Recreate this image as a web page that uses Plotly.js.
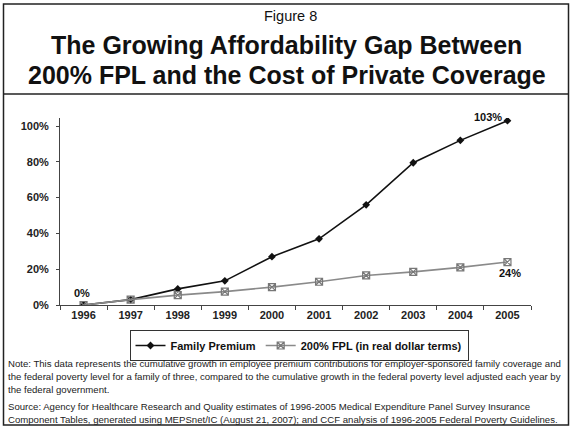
<!DOCTYPE html>
<html>
<head>
<meta charset="utf-8">
<script src="https://cdn.plot.ly/plotly-3.0.1.min.js"></script>
<style>
html,body{margin:0;padding:0;background:#fff;}
#chart{width:573px;height:428px;}
</style>
</head>
<body>
<div id="chart"></div>
<script>
var years = ['1996','1997','1998','1999','2000','2001','2002','2003','2004','2005'];
var familyPremium = [0, 3, 9, 13.5, 27, 37, 56, 79.5, 92, 103];
var fpl200 = [0, 3, 5.5, 7.5, 10, 13, 16.5, 18.5, 21, 24];
var seriesNames = ['Family Premium', '200% FPL (in real dollar terms)'];
var yTickVals = [0, 20, 40, 60, 80, 100];
var yTickText = ['0%', '20%', '40%', '60%', '80%', '100%'];

var W = 573, H = 428;
var L = 60, R = 531, T = 118, B = 305;
function px(x){ return (x - L) / (R - L); }
function py(y){ return (B - y) / (B - T); }

var FONT = 'Arial, "Liberation Sans", sans-serif';

var traces = [
  {x: years, y: familyPremium, name: seriesNames[0], type: 'scatter', mode: 'lines+markers',
   line: {color: '#111', width: 1.6},
   marker: {symbol: 'diamond', size: 6, color: '#111'}},
  {x: years, y: fpl200, name: seriesNames[1], type: 'scatter', mode: 'lines+markers',
   line: {color: '#8a8a8a', width: 1.6},
   marker: {symbol: 'square-x-open', size: 7, color: '#777', line: {width: 1.2}}}
];

function ann(text, x, y, size, bold, xanchor, color){
  return {text: text, xref: 'paper', yref: 'paper', x: px(x), y: py(y),
    xanchor: xanchor || 'center', yanchor: 'middle', showarrow: false, align: 'left',
    font: {family: FONT, size: size, color: color || '#111', weight: bold ? 'bold' : 'normal'}};
}

var annotations = [
  ann('Figure 8', 290, 16, 14.5, false),
  ann('The Growing Affordability Gap Between', 286, 45, 25, true),
  ann('200% FPL and the Cost of Private Coverage', 287, 75, 25, true),
  ann('0%', 82, 293, 11, true),
  ann('103%', 488, 117, 11, true),
  ann('24%', 510, 273, 11, true),
  ann('Note: This data represents the cumulative growth in employee premium contributions for employer-sponsored family coverage and', 6, 363, 9.6, false, 'left', '#222'),
  ann('the federal poverty level for a family of three, compared to the cumulative growth in the federal poverty level adjusted each year by', 6, 376, 9.6, false, 'left', '#222'),
  ann('the federal government.', 6, 389, 9.6, false, 'left', '#222'),
  ann('Source: Agency for Healthcare Research and Quality estimates of 1996-2005 Medical Expenditure Panel Survey Insurance', 6, 406, 9.6, false, 'left', '#222'),
  ann('Component Tables, generated using MEPSnet/IC (August 21, 2007); and CCF analysis of 1996-2005 Federal Poverty Guidelines.', 6, 419, 9.6, false, 'left', '#222')
];

var shapes = [
  {type: 'rect', xref: 'paper', yref: 'paper', x0: px(3.5), x1: px(568.5), y0: py(425), y1: py(4),
   line: {color: '#222', width: 1.5}},
  {type: 'line', xref: 'paper', yref: 'paper', x0: px(3.5), x1: px(568.5), y0: py(94), y1: py(94),
   line: {color: '#222', width: 1.5}}
];

var layout = {
  width: W, height: H,
  margin: {l: L, r: W - R, t: T, b: H - B, pad: 0},
  paper_bgcolor: '#fff', plot_bgcolor: '#fff',
  showlegend: true,
  legend: {orientation: 'h', x: px(299), xanchor: 'center', y: py(330), yanchor: 'top',
    bordercolor: '#333', borderwidth: 1, bgcolor: '#fff',
    font: {family: FONT, size: 11, color: '#111', weight: 'bold'},
    itemwidth: 30, tracegroupgap: 0},
  xaxis: {type: 'category', range: [-0.5, 9.5], showgrid: false, zeroline: false,
    showline: true, linecolor: '#444', linewidth: 1,
    ticks: 'outside', ticklen: 4, tickcolor: '#444', tickson: 'boundaries',
    tickfont: {family: FONT, size: 11, color: '#222', weight: 'bold'}, fixedrange: true},
  yaxis: {range: [0, 104.5], tickmode: 'array', tickvals: yTickVals, ticktext: yTickText,
    showgrid: false, zeroline: false,
    showline: true, linecolor: '#444', linewidth: 1,
    ticks: 'outside', ticklen: 3, tickcolor: '#444', ticklabelstandoff: 5,
    tickfont: {family: FONT, size: 11, color: '#222', weight: 'bold'}, fixedrange: true},
  annotations: annotations,
  shapes: shapes
};

Plotly.newPlot('chart', traces, layout, {displayModeBar: false, staticPlot: true});
</script>
</body>
</html>
